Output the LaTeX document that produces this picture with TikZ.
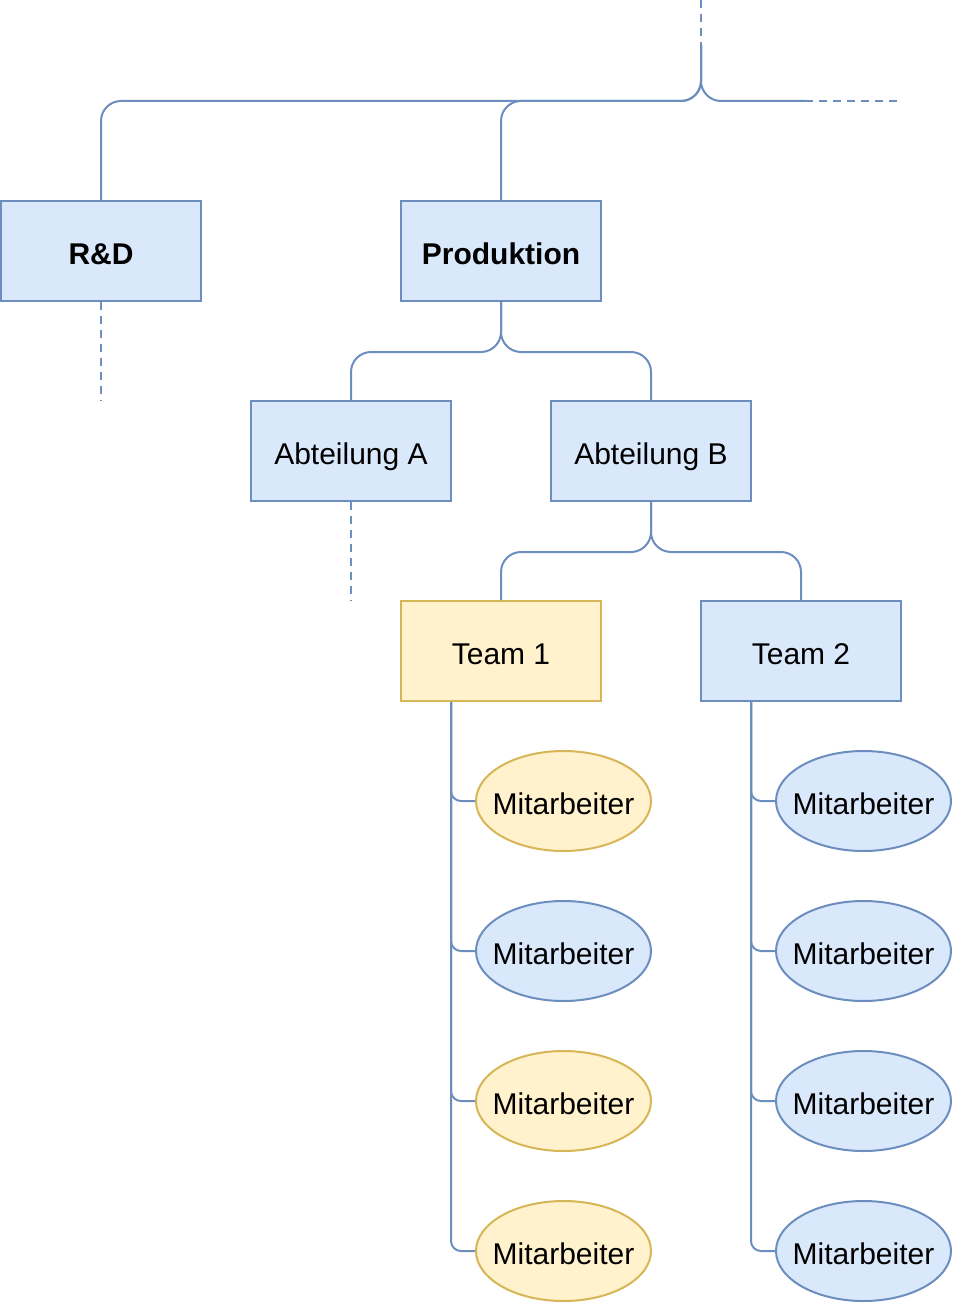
\documentclass[tikz,border=0pt]{standalone}
\usepackage{fontspec}
\setmainfont{Liberation Sans}
\usepackage{xcolor}
\usepackage{tikz}
\usetikzlibrary{shapes.geometric}
\usetikzlibrary{positioning}
\definecolor{blueFill}{HTML}{DAE8FC}
\definecolor{blueLine}{HTML}{6C8EBF}
\definecolor{yelFill}{HTML}{FFF2CC}
\definecolor{yelLine}{HTML}{D6B656}
\tikzset{
    blau/.style = {draw=blueLine, fill=blueFill},
    gelb/.style = {draw=yelLine, fill=yelFill},
    unit/.style = {rectangle, line width=2pt, minimum width=200pt, minimum height=100pt, inner sep=0pt, text height=26pt, text depth=0pt, font=\fontsize{30}{35}\selectfont},
    staff/.style = {ellipse, line width=2pt, minimum width=175pt, minimum height=100pt, inner xsep=-14pt, inner ysep=0pt, text height=26pt, text depth=0pt, font=\fontsize{30}{35}\selectfont},
    link/.style = {draw=blueLine, line width=2pt, rounded corners=20pt},
    open/.style = {draw=blueLine, line width=2pt, dash pattern=on 8pt off 6pt}
}

\begin{document}
\begin{tikzpicture}[x=1pt, y=-1pt]
                    \useasboundingbox (0,0) rectangle (953,1303);
                    % units
                    \node[unit, blau, font=\fontsize{30}{35}\selectfont\bfseries] (rd) at (101,251) {R\&D};
                    \node[unit, blau, font=\fontsize{30}{35}\selectfont\bfseries] (prod) at (501,251) {Produktion};
                    \node[unit, blau] (abtA) at (351,451) {Abteilung A};
                    \node[unit, blau] (abtB) at (651,451) {Abteilung B};
                    \node[unit, gelb] (team1) at (501,651) {Team 1};
                    \node[unit, blau] (team2) at (801,651) {Team 2};
                    % free ends
                    \coordinate (topend) at (701,0);
                    \coordinate (top) at (701,45);
                    \coordinate (bus) at (701,101);
                    \coordinate (busend) at (805,101);
                    \coordinate (busfar) at (900,101);
                    \coordinate (rdend) at (101,401);
                    \coordinate (abtAend) at (351,601);
                    % top level
                    \draw[open] (topend) -- (top);
                    \draw[link] (top) -- (bus) -| (rd.north);
                    \draw[link] (top) -- (bus) -| (prod.north);
                    \draw[link] (top) -- (bus) -- (busend);
                    \draw[open] (busend) -- (busfar);
                    \draw[open] (rd.south) -- (rdend);
                    \draw[open] (abtA.south) -- (abtAend);
                    % departments and teams
                    \draw[link] (prod.south) -- ++(0,50) -| (abtA.north);
                    \draw[link] (prod.south) -- ++(0,50) -| (abtB.north);
                    \draw[link] (abtB.south) -- ++(0,50) -| (team1.north);
                    \draw[link] (abtB.south) -- ++(0,50) -| (team2.north);
                    % staff
                    \foreach \y/\c [count=\i] in {801/gelb, 951/blau, 1101/gelb, 1251/gelb}
                    {
                        \node[staff, \c] (ma\i) at (563.5,\y) {Mitarbeiter};
                        \draw[link, rounded corners=10pt] ([xshift=-50pt]team1.south) |- (ma\i.west);
                    }
                    \foreach \y [count=\i] in {801, 951, 1101, 1251}
                    {
                        \node[staff, blau] (mb\i) at (863.5,\y) {Mitarbeiter};
                        \draw[link, rounded corners=10pt] ([xshift=-50pt]team2.south) |- (mb\i.west);
                    }
                \end{tikzpicture}
\end{document}
